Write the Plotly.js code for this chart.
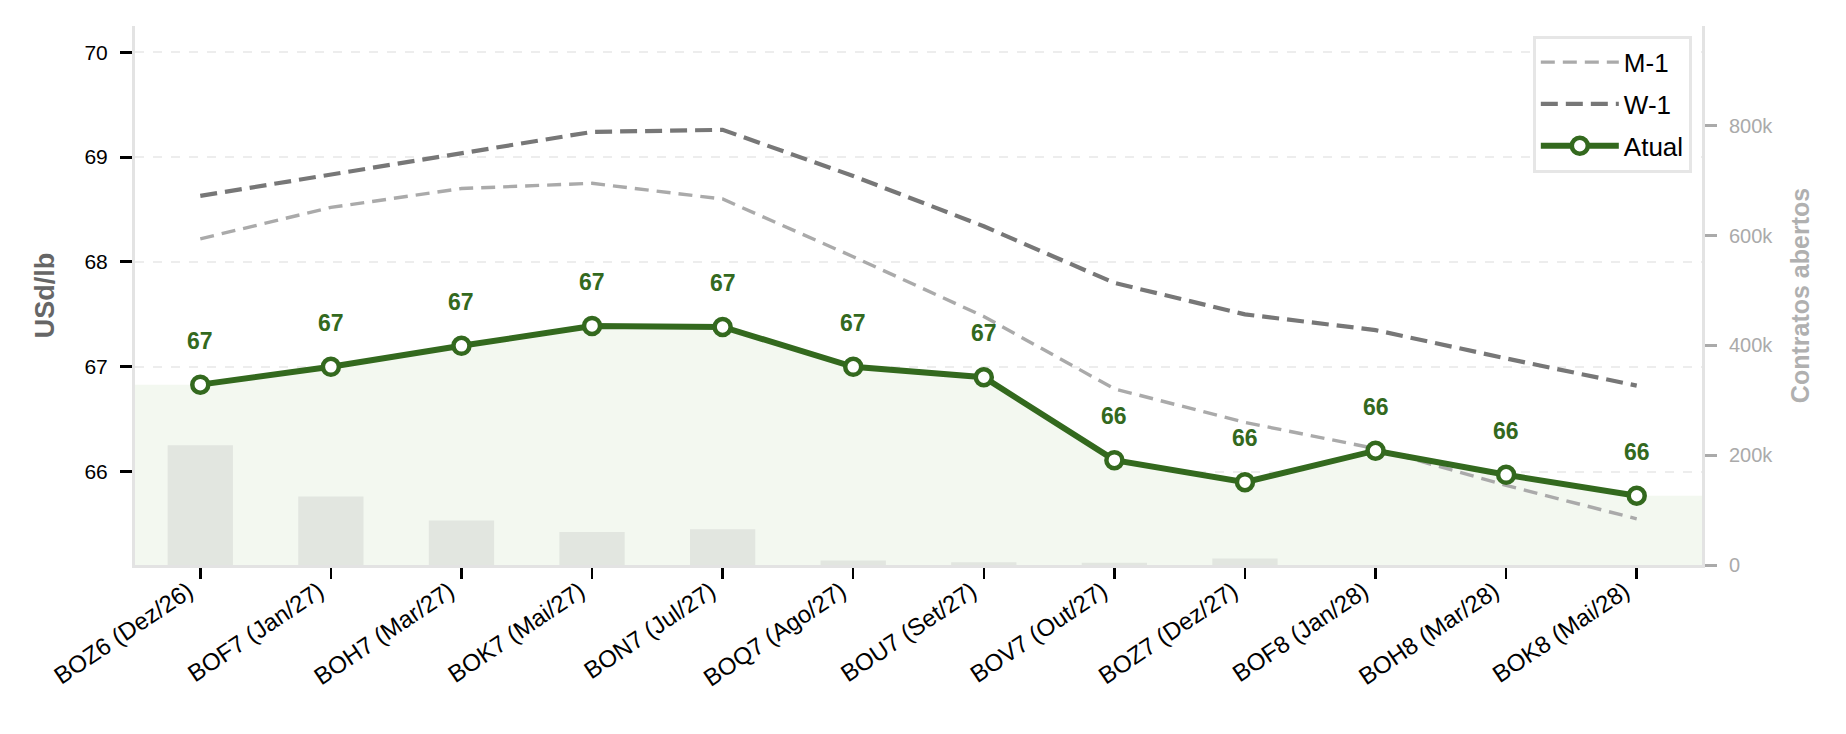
<!DOCTYPE html>
<html>
<head>
<meta charset="utf-8">
<script src="https://cdn.plot.ly/plotly-3.0.1.min.js"></script>
<style>
  html, body { margin: 0; padding: 0; background: #ffffff; }
  #chart { width: 1846px; height: 734px; }
</style>
</head>
<body>
<div id="chart"></div>
<script>
// ---- data ----
const categories = ['BOZ6 (Dez/26)', 'BOF7 (Jan/27)', 'BOH7 (Mar/27)', 'BOK7 (Mai/27)', 'BON7 (Jul/27)', 'BOQ7 (Ago/27)', 'BOU7 (Set/27)', 'BOV7 (Out/27)', 'BOZ7 (Dez/27)', 'BOF8 (Jan/28)', 'BOH8 (Mar/28)', 'BOK8 (Mai/28)'];
const atual = [66.83, 67.00, 67.20, 67.39, 67.38, 67.00, 66.90, 66.11, 65.90, 66.20, 65.97, 65.77];
const m1 = [68.22, 68.52, 68.70, 68.75, 68.60, 68.05, 67.48, 66.79, 66.47, 66.22, 65.87, 65.55];
const w1 = [68.63, 68.83, 69.04, 69.24, 69.26, 68.82, 68.34, 67.80, 67.50, 67.35, 67.08, 66.82];
const openInterest = [218000, 125000, 81000, 60000, 65000, 8000, 5000, 4000, 12000, 0, 0, 0];
const priceTicks = [66, 67, 68, 69, 70];
const oiTickVals = [0, 200000, 400000, 600000, 800000];
const oiTickText = ['0', '200k', '400k', '600k', '800k'];

// ---- build ----
const idx = categories.map((_, i) => i);
const GREEN = '#33691E';
const FONT = 'Liberation Sans, Arial, sans-serif';

const fillX = [idx[0] - 0.5].concat(idx, [idx[idx.length - 1] + 0.5]);
const fillY = [atual[0]].concat(atual, [atual[atual.length - 1]]);

const traces = [
  {
    x: fillX, y: fillY, type: 'scatter', mode: 'lines',
    line: { width: 0, color: 'rgba(0,0,0,0)' },
    fill: 'tozeroy', fillcolor: '#f3f8f0',
    showlegend: false, hoverinfo: 'skip', yaxis: 'y'
  },
  {
    x: idx, y: openInterest, type: 'bar', yaxis: 'y2',
    marker: { color: '#e2e6e0', line: { width: 0 } },
    width: 0.5, showlegend: false, name: 'Contratos abertos'
  },
  {
    x: idx, y: m1, type: 'scatter', mode: 'lines', name: 'M-1', legendgroup: 'g1',
    line: { color: '#aaaaaa', width: 3.4, dash: '14px,8px' }, yaxis: 'y'
  },
  {
    x: idx, y: w1, type: 'scatter', mode: 'lines', name: 'W-1', legendgroup: 'g2',
    line: { color: '#777777', width: 4.2, dash: '17px,8px' }, yaxis: 'y'
  },
  {
    x: idx, y: atual, type: 'scatter', mode: 'lines+markers', name: 'Atual', legendgroup: 'g3',
    line: { color: GREEN, width: 6 },
    marker: { size: 16, color: '#ffffff', line: { color: GREEN, width: 4.5 } },
    yaxis: 'y'
  }
];

const annotations = idx.map(i => ({
  x: i, y: atual[i], xref: 'x', yref: 'y',
  text: String(Math.round(atual[i])),
  showarrow: false, yshift: 44,
  font: { family: FONT, size: 23, color: GREEN, weight: 'bold' }
}));

const layout = {
  width: 1846, height: 734,
  margin: { l: 135, r: 144, t: 26, b: 169, pad: 0 },
  paper_bgcolor: '#ffffff', plot_bgcolor: '#ffffff',
  font: { family: FONT, color: '#000000' },
  showlegend: true,
  legend: {
    x: 0.9935, xanchor: 'right', y: 0.982, yanchor: 'top',
    bgcolor: '#ffffff', bordercolor: '#e6e6e6', borderwidth: 3,
    font: { family: FONT, size: 26, color: '#000000' },
    itemwidth: 78, tracegroupgap: 5, traceorder: 'grouped'
  },
  bargap: 0.5,
  xaxis: {
    type: 'linear', range: [-0.5, 11.5],
    tickmode: 'array', tickvals: idx, ticktext: categories,
    tickangle: -34, tickfont: { family: FONT, size: 24, color: '#000000' },
    ticks: 'outside', ticklen: 11, tickwidth: 2.5, tickcolor: '#000000',
    ticklabelstandoff: -11, ticklabelshift: -12,
    showline: true, linecolor: '#e3e3e3', linewidth: 3,
    showgrid: false, zeroline: false, fixedrange: true
  },
  yaxis: {
    range: [65.11, 70.25],
    tickmode: 'array', tickvals: priceTicks,
    tickfont: { family: FONT, size: 21, color: '#000000' },
    ticks: 'outside', ticklen: 12, tickwidth: 3, tickcolor: '#000000',
    ticklabelstandoff: 8,
    showline: true, linecolor: '#e3e3e3', linewidth: 3,
    showgrid: true, gridcolor: '#ededed', gridwidth: 2, griddash: 'dash',
    zeroline: false,
    title: { text: 'USd/lb', standoff: 22, font: { family: FONT, size: 27, color: '#666666', weight: 'bold' } }
  },
  yaxis2: {
    overlaying: 'y', side: 'right', range: [0, 982000],
    tickmode: 'array', tickvals: oiTickVals, ticktext: oiTickText,
    tickfont: { family: FONT, size: 20, color: '#aaaaaa' },
    ticks: 'outside', ticklen: 12, tickwidth: 3, tickcolor: '#aaaaaa',
    ticklabelstandoff: 8,
    showline: true, linecolor: '#e3e3e3', linewidth: 3,
    showgrid: false, zeroline: false,
    title: { text: 'Contratos abertos', standoff: 20, font: { family: FONT, size: 25, color: '#b0b0b0', weight: 'bold' } }
  },
  annotations: annotations
};

Plotly.newPlot('chart', traces, layout, { displayModeBar: false, staticPlot: true });
</script>
</body>
</html>
